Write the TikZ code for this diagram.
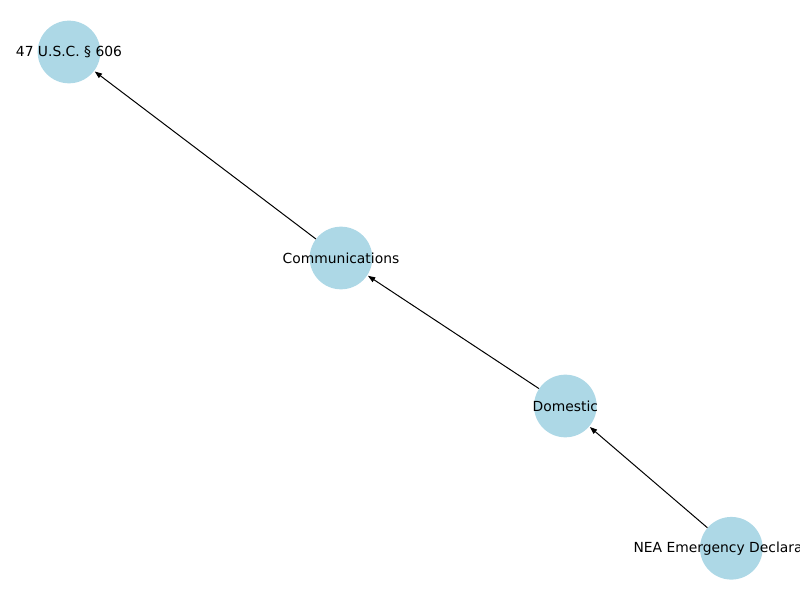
\documentclass[tikz,border=0pt]{standalone}
\usepackage{fontspec}
\setmainfont{DejaVu Sans}
\usetikzlibrary{arrows.meta}
\tikzset{
  nd/.style={circle, fill=lightblue, draw=none, minimum size=47pt, inner sep=0pt, font=\fontsize{10.4pt}{12pt}\selectfont, text=black},
  edge/.style={draw=black, line width=0.75pt, -{Triangle[length=5.5pt,width=4pt]}, shorten >=0.5pt}
}
\definecolor{lightblue}{HTML}{ADD8E6}
\begin{document}
\begin{tikzpicture}[x=1pt,y=1pt]
\useasboundingbox (0,0) rectangle (600,450);
\clip (0,0) rectangle (600,450);
\node[nd] (usc) at (51.75,411) {};
\node[nd] (comm) at (255.75,256.5) {};
\node[nd] (dom) at (424,145.5) {};
\node[nd] (nea) at (548.5,38.8) {};
\draw[edge] (comm) -- (usc);
\draw[edge] (dom) -- (comm);
\draw[edge] (nea) -- (dom);
\begin{scope}[every node/.style={font=\fontsize{10.4pt}{12pt}\selectfont, inner sep=0pt}]
\node (tusc) at (usc) {47 U.S.C. § 606};
\node (tcomm) at (comm) {Communications};
\node (tdom) at (dom) {Domestic};
\node (tnea) at (nea) {NEA Emergency Declaration};
\end{scope}
\end{tikzpicture}
\end{document}
